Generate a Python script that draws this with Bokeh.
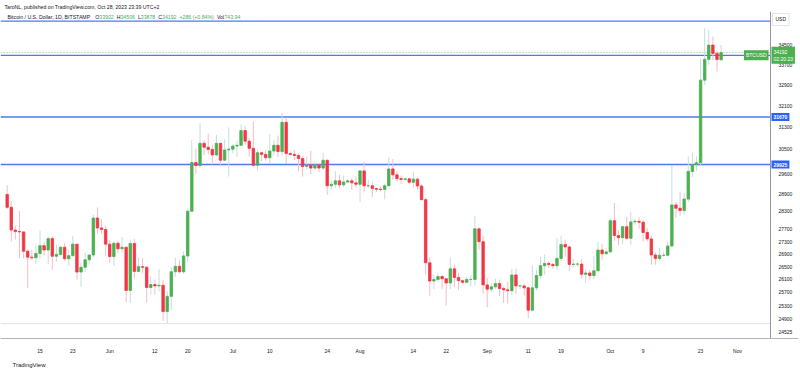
import numpy as np
import pandas as pd
from bokeh.plotting import figure
from bokeh.models import (Range1d, FixedTicker, NumeralTickFormatter, Span, Label,
                          Title, ColumnDataSource)
from bokeh.embed import file_html
from bokeh.resources import INLINE

# ---------------- data (BITSTAMP BTCUSD, daily) ----------------
first_day = "2023-05-07"

opens = [
    # May 7 - May 31
    28880, 28440, 27680, 27630, 27620, 26990, 26800, 26780, 26920, 27170, 27030, 27400, 26830,
    26890, 27120, 26750, 26850, 27220, 26330, 26480, 26720, 26870, 28080, 27750, 27700,
    # Jun
    27220, 26820, 27250, 27070, 27120, 25760, 27240, 26350, 26500, 26480, 25850, 25940, 25900,
    25920, 25120, 25580, 26340, 26510, 26340, 26840, 28310, 30000, 29890, 30690, 30550, 30470,
    30270, 30690, 30080, 30450,
    # Jul
    30480, 30590, 30620, 31160, 30770, 30510, 29900, 30350, 30290, 30170, 30410, 30620, 30390,
    31470, 30320, 30290, 30250, 30140, 29860, 29910, 29800, 29910, 29800, 30080, 29180, 29230,
    29350, 29210, 29310, 29350, 29280,
    # Aug
    29230, 29700, 29180, 29180, 29080, 29060, 29050, 29180, 29770, 29560, 29430, 29400, 29420,
    29300, 29410, 29170, 28700, 26620, 26050, 26100, 26190, 26120, 25990, 26430, 26160, 26060,
    26010, 26100, 26100, 27720, 27300,
    # Sep
    25930, 25800, 25870, 25970, 25820, 25780, 25750, 26240, 25900, 25900, 25840, 25160, 25840,
    26220, 26530, 26600, 26570, 26530, 26760, 27210, 27130, 26570, 26580, 26580, 26260, 26300,
    26220, 26370, 27030, 26910,
    # Oct 1 - Oct 28
    26970, 27990, 27500, 27430, 27790, 27410, 27950, 27970, 27940, 27600, 27390, 26870, 26760,
    26860, 26860, 27160, 28520, 28410, 28330, 28720, 29680, 29920, 29990, 33090, 33920, 34500,
    34160, 33902,
]

highs = [
    29200, 28650, 27820, 28320, 27620, 27050, 27030, 27190, 27660, 27280, 27480, 27480, 27200,
    27160, 27250, 27050, 27490, 27220, 26610, 26930, 26880, 28190, 28440, 28050, 27830,
    27350, 27300, 27320, 27450, 27140, 27360, 27390, 26800, 26770, 26520, 26200, 26100, 26420,
    26090, 25740, 26470, 26780, 26690, 26990, 28400, 30800, 30500, 31430, 30800, 31050, 30650,
    31000, 30700, 30840, 31280,
    30660, 30790, 31390, 31320, 30880, 31500, 30450, 30380, 30440, 31030, 30800, 30980, 31820,
    31640, 30390, 30450, 30340, 30240, 30190, 30420, 30050, 29990, 30340, 30100, 29360, 29690,
    29570, 29530, 29400, 29440, 29500,
    29730, 30040, 29400, 29310, 29110, 29160, 29250, 30180, 30120, 29680, 29540, 29460, 29450,
    29680, 29460, 29230, 28770, 26800, 26260, 26280, 26250, 26140, 26790, 26560, 26300, 26100,
    26180, 26230, 28150, 27760, 27500,
    26140, 25980, 26120, 26100, 25880, 26020, 26430, 26440, 25940, 25950, 25880, 26540, 26400,
    26820, 26880, 26660, 26620, 27420, 27490, 27370, 27160, 26740, 26630, 26740, 26420, 26390,
    26830, 27300, 27240, 27090,
    28050, 28590, 27670, 27830, 28120, 28280, 28050, 28110, 28000, 27740, 27480, 26950, 27100,
    26980, 27300, 29880, 28620, 28980, 28920, 30220, 30360, 30220, 33950, 35200, 35140, 34850,
    34250, 34506,
]

lows = [
    28380, 27300, 27370, 26770, 26760, 25840, 26700, 26580, 26740, 26860, 26580, 26400, 26660,
    26840, 26690, 26540, 26810, 26090, 25870, 26330, 26560, 26800, 27560, 27560, 26840,
    26610, 26520, 26930, 26960, 25400, 25380, 26130, 26330, 26290, 25400, 25640, 25640, 25740,
    24840, 24770, 25160, 26180, 26290, 26270, 26650, 28280, 29600, 29810, 30260, 30300, 29930,
    30230, 29860, 30050, 29500,
    30330, 30200, 30600, 30640, 30210, 29850, 29700, 30050, 30070, 29950, 30280, 30200, 30250,
    29950, 30250, 30080, 29690, 29500, 29770, 29590, 29730, 29650, 29740, 28870, 29050, 29110,
    29090, 29140, 29260, 29040, 29110,
    28620, 28950, 29100, 28790, 28960, 28980, 28710, 29140, 29380, 29340, 29250, 29360, 29250,
    29110, 29050, 28680, 26250, 25600, 25800, 26020, 25810, 25300, 25800, 25860, 25780, 25970,
    25980, 25880, 25900, 27030, 25650,
    25250, 25720, 25800, 25590, 25380, 25360, 25620, 25650, 25800, 25600, 24920, 25130, 25760,
    26130, 26250, 26450, 26430, 26390, 26680, 26810, 26360, 26490, 26500, 26120, 25990, 26090,
    26110, 26340, 26720, 26890,
    26950, 27330, 27180, 27220, 27370, 27200, 27860, 27720, 27300, 27310, 26560, 26560, 26700,
    26820, 26830, 27110, 28100, 28150, 28200, 28620, 29480, 29700, 29880, 32900, 33700, 33880,
    33430, 33878,
]

closes = [
    28440, 27680, 27630, 27620, 26990, 26800, 26780, 26920, 27170, 27030, 27400, 26830, 26890,
    27120, 26750, 26850, 27220, 26330, 26480, 26720, 26870, 28080, 27750, 27700, 27220,
    26820, 27250, 27070, 27120, 25760, 27240, 26350, 26500, 26480, 25850, 25940, 25900, 25920,
    25120, 25580, 26340, 26510, 26340, 26840, 28310, 30000, 29890, 30690, 30550, 30470, 30270,
    30690, 30080, 30450, 30480,
    30590, 30620, 31160, 30770, 30510, 29900, 30350, 30290, 30170, 30410, 30620, 30390, 31470,
    30320, 30290, 30250, 30140, 29860, 29910, 29800, 29910, 29800, 30080, 29180, 29230, 29350,
    29210, 29310, 29350, 29280, 29230,
    29700, 29180, 29180, 29080, 29060, 29050, 29180, 29770, 29560, 29430, 29400, 29420, 29300,
    29410, 29170, 28700, 26620, 26050, 26100, 26190, 26120, 25990, 26430, 26160, 26060, 26010,
    26100, 26100, 27720, 27300, 25930,
    25800, 25870, 25970, 25820, 25780, 25750, 26240, 25900, 25900, 25840, 25160, 25840, 26220,
    26530, 26600, 26570, 26530, 26760, 27210, 27130, 26570, 26580, 26580, 26260, 26300, 26220,
    26370, 27030, 26910, 26970,
    27990, 27500, 27430, 27790, 27410, 27950, 27970, 27940, 27600, 27390, 26870, 26760, 26860,
    26860, 27160, 28520, 28410, 28330, 28720, 29680, 29920, 29990, 33090, 33920, 34500, 34160,
    33910, 34192,
]

last_change = "+286 (+0.84%)"
last_volume = "743.94"
countdown = "02:20:23"

# horizontal levels drawn by the author
level_lines = [35500, 34080, 31670, 29925]
level_labels = [31670, 29925]

# price-scale ticks (log scale)
y_ticks = [24525, 24900, 25300, 25700, 26100, 26500, 26900, 27300, 27700, 28300, 28900,
           29600, 30500, 31300, 32100, 32900, 33700, 34500]

# time-scale ticks
tick_dates = ["2023-05-15", "2023-05-23", "2023-06-01", "2023-06-12", "2023-06-20",
              "2023-07-01", "2023-07-10", "2023-07-24", "2023-08-01", "2023-08-14",
              "2023-08-22", "2023-09-01", "2023-09-11", "2023-09-19", "2023-10-01",
              "2023-10-09", "2023-10-23", "2023-11-01"]
tick_labels = ["15", "23", "Jun", "12", "20", "Jul", "10", "24", "Aug", "14", "22", "Sep",
               "11", "19", "Oct", "9", "23", "Nov"]

# ---------------- styling ----------------
UP = "#4caf50"
DOWN = "#f23645"
UP_WICK = "#c4dde1"
DOWN_WICK = "#f7bcc2"
BLUE = "#2962ff"
LINE_BLUE = "#3b6cf0"
TXT = "#131722"
FONT = "Liberation Sans"

origin = pd.Timestamp("2023-05-15")
dates = pd.date_range(first_day, periods=len(opens), freq="D")
day = np.array((dates - origin).days, dtype=float)

o = np.array(opens, dtype=float)
h = np.array(highs, dtype=float)
l = np.array(lows, dtype=float)
c = np.array(closes, dtype=float)
up = c >= o

src = ColumnDataSource(dict(
    x=day, top=np.maximum(o, c), bottom=np.minimum(o, c), high=h, low=l,
    body=np.where(up, UP, DOWN), wick=np.where(up, UP_WICK, DOWN_WICK),
))


# layout helpers: reference pixel -> data position
def ref_price(py):
    return 29925.0 * np.exp((165.0 - py) / 845.0)


def ref_day(px):
    return (px - 39.5) / 4.103


W, H = 800, 370
RIGHT = 2
x_start, x_end = ref_day(0), ref_day(W - RIGHT)
scale_edge = ref_day(770)          # border between chart pane and price scale
y_lo, y_hi = ref_price(340), ref_price(11)

p = figure(width=W, height=H, y_axis_type="log", y_axis_location="right",
           x_range=Range1d(x_start, x_end), y_range=Range1d(y_lo, y_hi),
           output_backend="svg", toolbar_location=None,
           min_border=0, min_border_right=RIGHT, min_border_left=0, min_border_bottom=0,
           title="TaroNL, published on TradingView.com, Oct 28, 2023 23:39 UTC+2")
p.title.text_font = FONT
p.title.text_font_size = "5.2px"
p.title.text_font_style = "normal"
p.title.text_color = TXT
p.title.standoff = 3
p.title.align = "left"
p.title.offset = 4

p.background_fill_color = "white"
p.border_fill_color = "white"
p.outline_line_color = None
p.xgrid.visible = False
p.ygrid.visible = False

# axes
tick_days = [float((pd.Timestamp(t) - origin).days) for t in tick_dates]
p.xaxis.ticker = FixedTicker(ticks=tick_days)
p.xaxis.major_label_overrides = {d: s for d, s in zip(tick_days, tick_labels)}
p.yaxis.ticker = FixedTicker(ticks=y_ticks)
p.yaxis.formatter = NumeralTickFormatter(format="0")
for ax in (p.xaxis[0], p.yaxis[0]):
    ax.major_label_text_font = FONT
    ax.major_label_text_font_size = "5px"
    ax.major_label_text_color = TXT
    ax.major_tick_line_color = None
    ax.minor_tick_line_color = None
p.xaxis.axis_line_color = "#b2b5be"
p.yaxis.axis_line_color = None
p.xaxis.major_label_standoff = 3
# price labels sit inside the price-scale strip, left of the axis anchor
p.yaxis.major_label_standoff = 772 - (W - RIGHT)

# credit line under the time scale
p.add_layout(Title(text="TradingView", text_font=FONT, text_font_size="6px",
                   text_font_style="normal", text_color=TXT, align="left", standoff=6,
                   offset=12), "below")

# price-scale border
p.add_layout(Span(location=scale_edge, dimension="height", line_color="#9598a1", line_width=1))

n_lv = len(level_lines)
# pane separator near the bottom
p.segment(x0=[x_start], x1=[scale_edge], y0=[ref_price(325)], y1=[ref_price(325)],
          line_color="#e0e3eb", line_width=1)
# author's horizontal lines
p.segment(x0=[x_start] * n_lv, x1=[scale_edge] * n_lv, y0=level_lines, y1=level_lines,
          line_color=LINE_BLUE, line_width=1.4, line_alpha=0.9)
# last price line
p.segment(x0=[x_start], x1=[scale_edge], y0=[closes[-1]], y1=[closes[-1]],
          line_color=UP, line_width=1, line_dash="1 2", line_alpha=0.8)

# candles
p.segment(x0="x", y0="low", x1="x", y1="high", line_color="wick", line_width=1, source=src)
p.vbar(x="x", top="top", bottom="bottom", width=0.6, fill_color="body", line_color="body",
       line_width=0.8, source=src)

# header line inside the chart
widths = {"O": 778, "H": 722, "L": 556, "C": 722, "V": 667, "o": 556, "l": 222, " ": 278,
          ".": 278, "(": 333, ")": 333, "+": 584, "%": 889, "-": 333}


def text_w(s, size):
    return sum(widths.get(ch, 556) for ch in s) * size / 1000.0


hdr_size = 5.2
segments = [("Bitcoin / U.S. Dollar, 1D, BITSTAMP", TXT, 7)]
pairs = [("O", str(opens[-1])), ("H", str(highs[-1])), ("L", str(lows[-1])),
         ("C", str(closes[-1])), ("", last_change), ("Vol", last_volume)]
cur = 7 + 16.1 * hdr_size + 4
for letter, val in pairs:
    if letter:
        segments.append((letter, TXT, cur))
        cur += text_w(letter, hdr_size)
    segments.append((val, UP, cur))
    cur += text_w(val, hdr_size) + 3

for txt, col, off in segments:
    p.add_layout(Label(x=x_start, y=ref_price(17), x_offset=off, text=txt, text_color=col,
                       text_font=FONT, text_font_size=f"{hdr_size}px", text_baseline="middle",
                       text_align="left"))

# price-scale boxes
for lv in level_labels:
    p.add_layout(Label(x=scale_edge, y=lv, x_offset=1, text=str(lv), text_color="white",
                       text_font=FONT, text_font_size="5px", text_font_style="bold",
                       text_baseline="middle", text_align="left",
                       background_fill_color=BLUE, padding=2))

p.add_layout(Label(x=scale_edge, y=ref_price(55), x_offset=1, text=f"{closes[-1]}\n{countdown}",
                   text_color="white", text_font=FONT, text_font_size="5px",
                   text_baseline="middle", text_align="left",
                   background_fill_color=UP, padding=2))
p.add_layout(Label(x=scale_edge, y=ref_price(55), x_offset=-2, text="BTCUSD", text_color="white",
                   text_font=FONT, text_font_size="5px", text_baseline="middle",
                   text_align="right", background_fill_color=UP, padding=2))
p.add_layout(Label(x=scale_edge, y=ref_price(19), x_offset=2, text="USD", text_color=TXT,
                   text_font=FONT, text_font_size="5px", text_baseline="middle",
                   text_align="left", background_fill_color="white",
                   border_line_color="#e0e3eb", padding=3))

open("out.html", "w").write(file_html(p, INLINE))
